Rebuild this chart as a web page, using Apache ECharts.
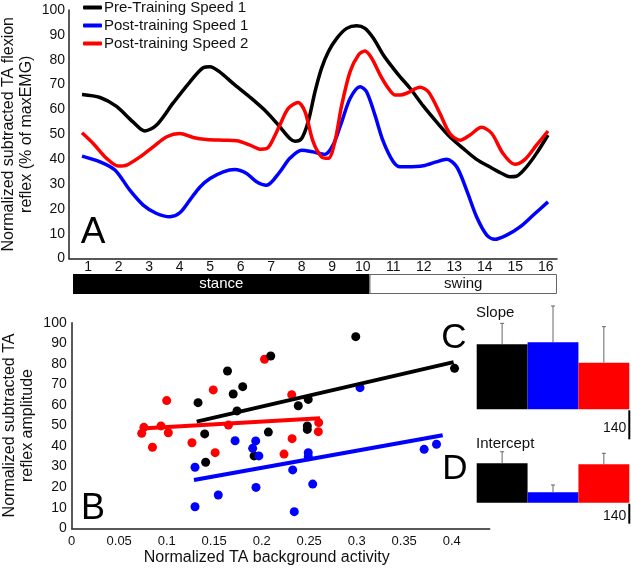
<!DOCTYPE html>
<html><head><meta charset="utf-8">
<script src="https://cdn.jsdelivr.net/npm/echarts@6/dist/echarts.min.js"></script>
<style>html,body{margin:0;padding:0;background:#fff}#c{width:631px;height:569px}</style>
</head><body><div id="c"></div>
<script>
// ---------- DATA ----------
const seriesNames = ['Pre-Training Speed 1', 'Post-training Speed 1', 'Post-training Speed 2'];
const gaitLabels = ['1','2','3','4','5','6','7','8','9','10','11','12','13','14','15','16'];
const phaseNames = ['stance', 'swing'];
const phaseSpan = [9.8, 6.2];

// Panel A curves (position in the gait cycle, % of maxEMG)
const preX = [1.0,1.58,2.1,2.64,3.02,3.4,3.93,4.47,4.9,5.12,5.44,5.86,6.4,6.94,7.37,7.69,7.86,8.07,8.28,8.5,8.71,8.93,9.2,9.52,9.84,10.11,10.38,10.7,11.02,11.24,11.56,11.99,12.41,12.84,13.27,13.7,14.12,14.55,14.77,14.98,15.31,15.63,16.0];
const preY = [66.0,64.8,61.3,55.0,51.3,53.7,62.5,71.0,76.8,77.2,75.0,70.5,65.0,59.0,53.0,48.3,47.2,48.3,55.0,67.1,76.5,83.2,88.6,92.6,93.7,92.6,88.6,81.9,76.5,73.1,68.5,61.3,55.0,49.0,44.3,39.9,36.9,34.0,32.9,33.1,36.9,42.3,49.7];
const post1X = [1.0,1.58,2.06,2.54,2.97,3.4,3.83,4.15,4.47,4.8,5.12,5.55,5.92,6.3,6.62,6.94,7.37,7.69,8.07,8.44,8.81,9.08,9.36,9.63,9.95,10.16,10.43,10.7,11.02,11.24,11.45,11.99,12.41,12.74,13.06,13.38,13.7,14.03,14.29,14.67,15.1,15.52,16.0];
const post1Y = [41.2,38.9,35.6,27.5,21.5,18.1,16.8,18.4,23.5,28.8,32.2,34.9,35.8,34.2,30.9,29.5,34.9,40.3,43.6,42.9,41.9,45.6,55.0,64.4,69.1,67.1,57.7,47.0,38.9,36.9,36.9,37.3,38.9,39.9,36.9,27.5,16.8,9.4,7.7,9.4,12.7,17.4,22.8];
const post2X = [1.0,1.36,1.79,2.17,2.44,2.87,3.29,3.73,4.15,4.58,5.01,5.55,5.98,6.41,6.73,6.94,7.05,7.37,7.64,7.96,8.18,8.44,8.71,8.93,9.14,9.36,9.63,9.9,10.11,10.33,10.6,10.86,11.07,11.24,11.45,11.88,12.15,12.52,12.84,13.17,13.49,13.86,14.19,14.55,14.93,15.26,15.63,16.0];
const post2Y = [50.6,46.3,40.3,37.2,37.6,40.9,44.9,49.0,50.3,48.7,47.9,47.6,47.4,45.6,44.0,44.2,45.6,53.7,60.4,62.8,59.0,47.0,40.9,40.3,47.0,61.7,75.2,81.9,83.5,80.5,73.8,68.5,65.8,65.8,66.5,68.9,67.1,58.4,50.3,47.6,49.7,52.8,50.3,42.3,37.9,39.9,45.6,51.3];

// Panel B scatter (background activity, reflex amplitude)
const preBx = [0.299,0.2095,0.164,0.180,0.170,0.133,0.174,0.249,0.2385,0.140,0.207,0.248,0.248,0.141,0.192,0.403];
const preBy = [93.2,83.8,76.5,68.9,65.3,61.1,57.1,62.7,59.6,45.9,46.8,49.8,48.1,32.1,35.2,77.8];
const post1Bx = [0.3035,0.172,0.1937,0.1905,0.197,0.1298,0.249,0.249,0.2326,0.194,0.2537,0.1543,0.1298,0.2343,0.371,0.384];
const post1By = [68.4,42.6,42.5,38.9,35.2,29.7,36.8,34.8,28.4,19.9,21.5,16.2,10.5,8.1,38.4,40.9];
const post2Bx = [0.203,0.149,0.100,0.2316,0.076,0.094,0.0737,0.1017,0.085,0.1266,0.165,0.151,0.2235,0.232,0.260,0.2596];
const post2By = [82.2,67.3,62.1,65.0,49.1,49.8,46.2,46.5,39.4,41.6,50.2,36.8,36.1,43.6,51.4,47.0];
// regression lines (end points)
const preFitX = [0.1316, 0.402], preFitY = [51.9, 80.8];
const post1FitX = [0.1287, 0.3905], post1FitY = [23.5, 45.3];
const post2FitX = [0.0737, 0.2614], post2FitY = [48.6, 53.5];

// Panels C / D (group means and SD)
const slopeMean = [314, 324, 225];
const slopeSD = [101, 175, 174];
const interceptMean = [276, 73, 269];
const interceptSD = [81, 51, 77];
const scaleBarValue = [140];

// ---------- STYLE ----------
const colors = ['#000000', '#0000ff', '#ff0000'];
const FONT = '"Liberation Sans", Arial, sans-serif';
const TXT = '#111';

const zip = (xs, ys) => xs.map((x, i) => [x, ys[i]]);

function errRender(params, api) {
  const lo = api.coord([api.value(0), api.value(1)]);
  const hi = api.coord([api.value(0), api.value(2)]);
  const st = { stroke: '#666', lineWidth: 1 };
  return { type: 'group', children: [
    { type: 'line', shape: { x1: lo[0], y1: lo[1], x2: hi[0], y2: hi[1] }, style: st },
    { type: 'line', shape: { x1: hi[0] - 2, y1: hi[1], x2: hi[0] + 2, y2: hi[1] }, style: st }
  ]};
}
function scaleRender(params, api) {
  const cs = params.coordSys;
  const x = cs.x + cs.width;
  const y0 = cs.y + cs.height + 1;
  const len = api.size([0, api.value(0)])[1];
  return { type: 'group', children: [
    { type: 'line', shape: { x1: x, y1: y0, x2: x, y2: y0 + len }, style: { stroke: '#000', lineWidth: 2 } },
    { type: 'text', x: x - 3, y: y0 + len * 0.6, style: { text: String(api.value(0)), fill: TXT, font: '14px ' + FONT, align: 'right', verticalAlign: 'middle' } }
  ]};
}

const axisLineStyle = { lineStyle: { color: '#222', width: 1.5 } };
const G = { containLabel: false, outerBoundsMode: 'none' };

const option = {
  backgroundColor: '#fff',
  animation: false,
  textStyle: { fontFamily: FONT },
  legend: {
    data: seriesNames, orient: 'vertical', left: 78, top: -5,
    itemWidth: 19, itemHeight: 4, itemGap: 3, icon: 'roundRect',
    textStyle: { fontSize: 15, color: TXT, padding: [0, 0, 0, -3], lineHeight: 15 }
  },
  grid: [
    Object.assign({ left: 69, top: 10, width: 488, height: 248.5 }, G),          // A
    Object.assign({ left: 73, top: 274, width: 484, height: 20 }, G),            // phase bar
    Object.assign({ left: 71.7, top: 322.7, width: 418, height: 205.6 }, G),     // B
    Object.assign({ left: 476.7, top: 295.4, width: 152.6, height: 113.9 }, G),  // C
    Object.assign({ left: 476.7, top: 445.6, width: 152.6, height: 57.1 }, G)    // D
  ],
  xAxis: [
    { gridIndex: 0, type: 'category', data: gaitLabels, boundaryGap: true,
      axisLine: axisLineStyle, axisTick: { length: 3, lineStyle: { color: '#222' } },
      axisLabel: { fontSize: 14, color: TXT, margin: 2, padding: [0, 0, 0, 8] } },
    { gridIndex: 0, type: 'value', min: 0.5816, max: 16.29, show: false },
    { gridIndex: 1, type: 'value', min: 0, max: 16, show: false },
    { gridIndex: 2, type: 'value', min: 0, max: 0.44, interval: 0.05, offset: 4,
      axisLine: axisLineStyle, axisTick: { show: false }, splitLine: { show: false },
      axisLabel: { fontSize: 13, color: TXT, margin: 3, showMaxLabel: false },
      name: 'Normalized TA background activity', nameLocation: 'middle', nameGap: 17, nameMoveOverlap: false,
      nameTextStyle: { fontSize: 16, color: TXT, padding: [0, 28, 0, 0] } },
    { gridIndex: 3, type: 'category', data: seriesNames, show: false },
    { gridIndex: 4, type: 'category', data: seriesNames, show: false }
  ],
  yAxis: [
    { gridIndex: 0, type: 'value', min: 0, max: 100, interval: 10,
      axisLine: { show: true, lineStyle: { color: '#222', width: 1.5 } }, axisTick: { show: false }, splitLine: { show: false },
      axisLabel: { fontSize: 14, color: TXT, margin: 4 },
      name: 'Normalized subtracted TA flexion\nreflex (% of maxEMG)', nameLocation: 'middle', nameRotate: 90, nameGap: 33, nameMoveOverlap: false,
      nameTextStyle: { fontSize: 16, color: TXT, lineHeight: 18 } },
    { gridIndex: 1, type: 'category', data: ['phase'], show: false },
    { gridIndex: 2, type: 'value', min: 0, max: 100, interval: 10,
      axisLine: { show: true, lineStyle: { color: '#222', width: 1.5 } }, axisTick: { show: false }, splitLine: { show: false },
      axisLabel: { fontSize: 14, color: TXT, margin: 5 },
      name: 'Normalized subtracted TA\nreflex amplitude', nameLocation: 'middle', nameRotate: 90, nameGap: 35.5, nameMoveOverlap: false,
      nameTextStyle: { fontSize: 16, color: TXT, lineHeight: 18 } },
    { gridIndex: 3, type: 'value', min: 0, max: 550, show: false },
    { gridIndex: 4, type: 'value', min: 0, max: 400, show: false }
  ],
  graphic: [
    { type: 'text', x: 93, y: 233, style: { text: 'A', font: '37px ' + FONT, fill: '#000', align: 'center', verticalAlign: 'middle' } },
    { type: 'text', x: 93, y: 509, style: { text: 'B', font: '36px ' + FONT, fill: '#000', align: 'center', verticalAlign: 'middle' } },
    { type: 'text', x: 454, y: 338, style: { text: 'C', font: '35px ' + FONT, fill: '#000', align: 'center', verticalAlign: 'middle' } },
    { type: 'text', x: 455, y: 469, style: { text: 'D', font: '35px ' + FONT, fill: '#000', align: 'center', verticalAlign: 'middle' } },
    { type: 'text', x: 476, y: 313.3, style: { text: 'Slope', font: '15px ' + FONT, fill: TXT, align: 'left', verticalAlign: 'middle' } },
    { type: 'text', x: 476, y: 444, style: { text: 'Intercept', font: '15px ' + FONT, fill: TXT, align: 'left', verticalAlign: 'middle' } }
  ],
  series: [
    // Panel A
    { name: seriesNames[0], type: 'line', xAxisIndex: 1, yAxisIndex: 0, data: zip(preX, preY), smooth: 0.3, showSymbol: false,
      color: colors[0], lineStyle: { width: 3.5, color: colors[0] } },
    { name: seriesNames[1], type: 'line', xAxisIndex: 1, yAxisIndex: 0, data: zip(post1X, post1Y), smooth: 0.3, showSymbol: false,
      color: colors[1], lineStyle: { width: 3.5, color: colors[1] } },
    { name: seriesNames[2], type: 'line', xAxisIndex: 1, yAxisIndex: 0, data: zip(post2X, post2Y), smooth: 0.3, showSymbol: false,
      color: colors[2], lineStyle: { width: 3.5, color: colors[2] } },
    // phase bar
    { type: 'bar', xAxisIndex: 2, yAxisIndex: 1, stack: 'phase', barWidth: '100%', data: [phaseSpan[0]],
      itemStyle: { color: '#000' }, label: { show: true, position: 'inside', formatter: phaseNames[0], color: '#fff', fontSize: 15 } },
    { type: 'bar', xAxisIndex: 2, yAxisIndex: 1, stack: 'phase', barWidth: '100%', data: [phaseSpan[1]],
      itemStyle: { color: '#fff', borderColor: '#666', borderWidth: 1 }, label: { show: true, position: 'inside', formatter: phaseNames[1], color: TXT, fontSize: 15 } },
    // Panel B scatter
    { name: 'B ' + seriesNames[2], type: 'scatter', xAxisIndex: 3, yAxisIndex: 2, data: zip(post2Bx, post2By), symbolSize: 9, itemStyle: { color: colors[2], opacity: 1 } },
    { name: 'B ' + seriesNames[0], type: 'scatter', xAxisIndex: 3, yAxisIndex: 2, data: zip(preBx, preBy), symbolSize: 9, itemStyle: { color: colors[0], opacity: 1 } },
    { name: 'B ' + seriesNames[1], type: 'scatter', xAxisIndex: 3, yAxisIndex: 2, data: zip(post1Bx, post1By), symbolSize: 9, itemStyle: { color: colors[1], opacity: 1 } },
    { name: 'fit0', type: 'line', xAxisIndex: 3, yAxisIndex: 2, data: zip(preFitX, preFitY), showSymbol: false, lineStyle: { width: 4, color: colors[0] } },
    { name: 'fit1', type: 'line', xAxisIndex: 3, yAxisIndex: 2, data: zip(post1FitX, post1FitY), showSymbol: false, lineStyle: { width: 4, color: colors[1] } },
    { name: 'fit2', type: 'line', xAxisIndex: 3, yAxisIndex: 2, data: zip(post2FitX, post2FitY), showSymbol: false, lineStyle: { width: 4, color: colors[2] } },
    // Panel C
    { type: 'bar', xAxisIndex: 4, yAxisIndex: 3, barCategoryGap: 0, barWidth: '100%',
      data: slopeMean.map((v, i) => ({ value: v, itemStyle: { color: colors[i] } })) },
    { type: 'custom', xAxisIndex: 4, yAxisIndex: 3, renderItem: errRender, z: 5,
      data: slopeMean.map((v, i) => [i, v, v + slopeSD[i]]) },
    { type: 'custom', xAxisIndex: 4, yAxisIndex: 3, renderItem: scaleRender, data: [[scaleBarValue[0]]], encode: { y: 0 } },
    // Panel D
    { type: 'bar', xAxisIndex: 5, yAxisIndex: 4, barCategoryGap: 0, barWidth: '100%',
      data: interceptMean.map((v, i) => ({ value: v, itemStyle: { color: colors[i] } })) },
    { type: 'custom', xAxisIndex: 5, yAxisIndex: 4, renderItem: errRender, z: 5,
      data: interceptMean.map((v, i) => [i, v, v + interceptSD[i]]) },
    { type: 'custom', xAxisIndex: 5, yAxisIndex: 4, renderItem: scaleRender, data: [[scaleBarValue[0]]], encode: { y: 0 } }
  ]
};
const chart = echarts.init(document.getElementById('c'), null, { renderer: 'canvas' });
chart.setOption(option);
</script>
</body></html>
